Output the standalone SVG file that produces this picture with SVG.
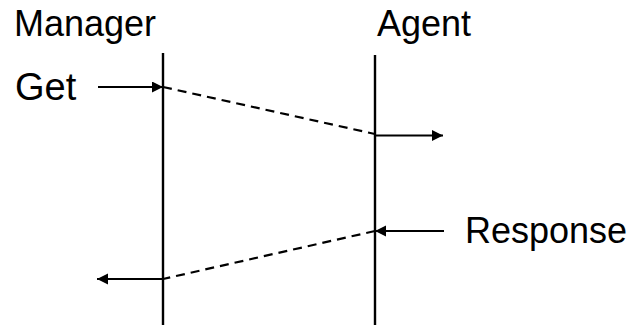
<svg xmlns="http://www.w3.org/2000/svg" width="636" height="327" viewBox="0 0 636 327">
<style>
.lbl{font-family:"Liberation Sans",Arial,sans-serif;font-size:36px;fill:#000}
.life{stroke:#000;stroke-width:2.4;fill:none}
.msg{stroke:#000;stroke-width:2.2;fill:none}
.dash{stroke:#000;stroke-width:2.2;fill:none;stroke-dasharray:9,6}
</style>
<defs>
<marker id="ah" markerUnits="userSpaceOnUse" markerWidth="12" markerHeight="12" refX="11" refY="5.5" orient="auto">
<path d="M0,0 L11,5.5 L0,11 Z" fill="#000"/>
</marker>
</defs>
<rect width="636" height="327" fill="#fff"/>
<g id="manager">
<text class="lbl" x="14" y="36">Manager</text>
<line class="life" x1="163" y1="53" x2="163" y2="325"/>
</g>
<g id="agent">
<text class="lbl" x="377" y="36">Agent</text>
<line class="life" x1="375" y1="55" x2="375" y2="325"/>
</g>
<g id="get-label">
<text class="lbl" x="15" y="100" style="font-size:38px">Get</text>
</g>
<g id="response-label">
<text class="lbl" x="465" y="243">Response</text>
</g>
<g id="connectors">
<line class="msg" x1="98" y1="87" x2="163" y2="87" marker-end="url(#ah)"/>
<line class="dash" x1="163" y1="87" x2="375" y2="134"/>
<line class="msg" x1="375" y1="135.5" x2="443" y2="135.5" marker-end="url(#ah)"/>
<line class="msg" x1="444" y1="231" x2="375" y2="231" marker-end="url(#ah)"/>
<line class="dash" x1="375" y1="231" x2="163" y2="279"/>
<line class="msg" x1="163" y1="279" x2="97" y2="279" marker-end="url(#ah)"/>
</g>
</svg>
